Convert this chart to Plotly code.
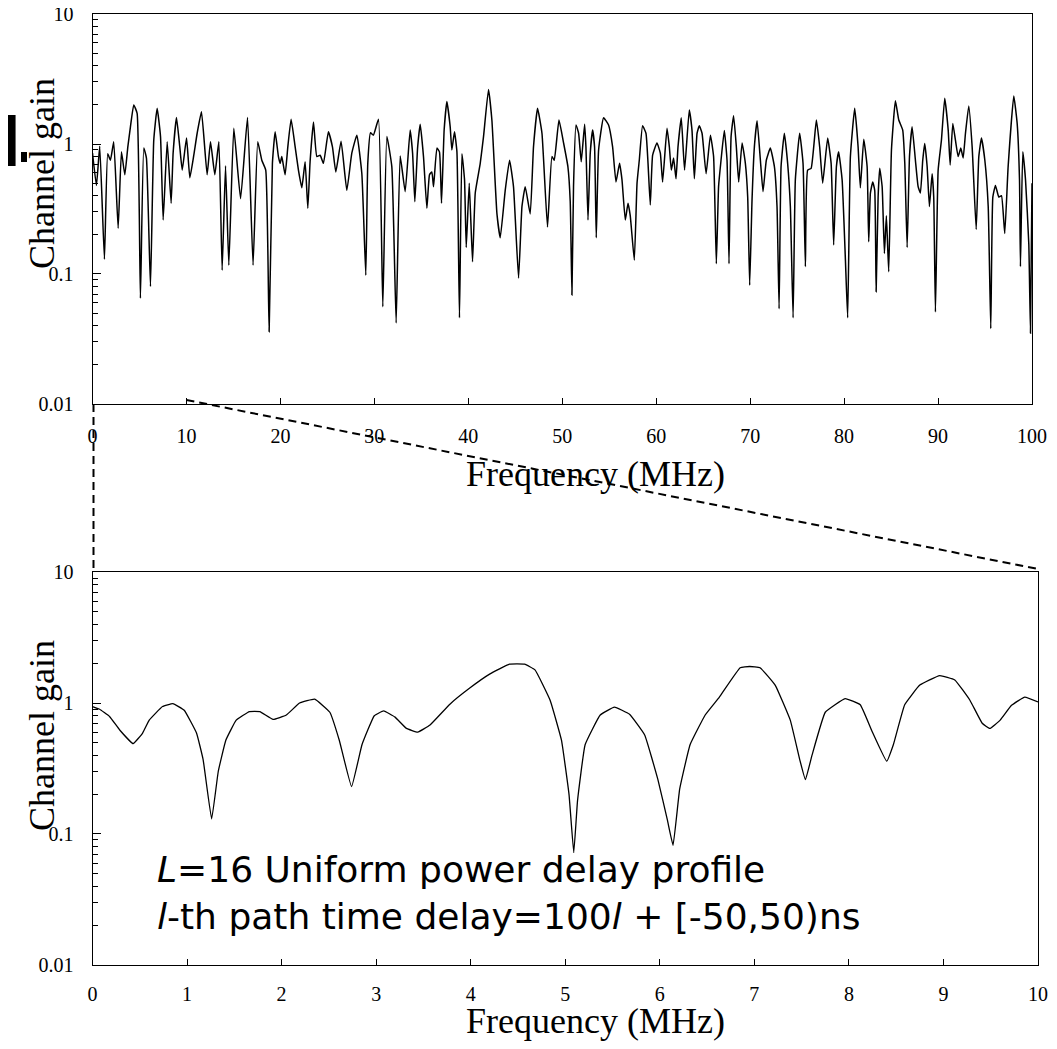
import plotly.graph_objects as go

# ---------------- data ----------------
top_freq = [0.0, 0.42, 0.77, 1.27, 1.62, 1.91, 2.26, 2.73, 3.08, 3.44, 3.76, 4.04, 4.39, 4.75, 5.1, 5.46, 5.74,
            6.17, 6.52, 6.88, 7.24, 7.52, 7.95, 8.37, 8.58, 8.94, 9.29, 9.55, 10.01, 10.36, 10.78, 11.14, 11.6,
            12.2, 12.56, 13.02, 13.45, 13.8, 14.16, 14.51, 15.04, 15.76, 16.5, 17.09, 17.59, 18.02, 18.44, 18.8,
            19.15, 19.44, 19.79, 19.97, 20.15, 20.5, 20.79, 21.14, 21.57, 21.92, 22.28, 22.63, 22.92, 23.16,
            23.52, 23.88, 24.23, 24.58, 25.11, 25.54, 25.9, 26.46, 27.07, 27.6, 28.14, 28.67, 29.09, 29.3, 29.59,
            29.9, 30.44, 30.9, 31.33, 31.86, 32.32, 32.75, 33.28, 33.81, 34.07, 34.31, 34.6, 34.88, 35.23, 35.59,
            35.87, 36.12, 36.3, 36.66, 36.93, 37.15, 37.43, 37.72, 38.07, 38.25, 38.53, 38.79, 39.06, 39.32,
            39.6, 39.78, 40.1, 40.45, 40.74, 41.27, 41.62, 42.15, 42.51, 43.05, 43.4, 43.93, 44.39, 44.81, 45.35,
            45.71, 46.06, 46.59, 46.94, 47.37, 47.84, 48.43, 48.9, 49.15, 49.65, 50.14, 50.6, 50.85, 51.03, 51.2,
            51.46, 51.74, 52.02, 52.38, 52.52, 52.74, 52.98, 53.23, 53.44, 53.62, 53.87, 54.4, 54.93, 55.36,
            55.72, 56.1, 56.36, 56.71, 57.0, 57.24, 57.67, 57.96, 58.2, 58.55, 58.91, 59.13, 59.37, 59.62, 60.08,
            60.44, 60.68, 61.15, 61.4, 61.61, 61.85, 62.11, 62.32, 62.67, 63.02, 63.52, 63.81, 64.06, 64.35,
            64.59, 64.88, 65.31, 65.77, 66.11, 66.4, 66.64, 66.9, 67.25, 67.54, 67.75, 67.97, 68.24, 68.53,
            68.78, 69.14, 69.49, 69.74, 69.95, 70.2, 70.45, 70.74, 71.09, 71.37, 71.72, 72.15, 72.58, 72.86,
            73.08, 73.29, 73.64, 73.99, 74.28, 74.57, 74.81, 75.27, 75.63, 75.88, 76.12, 76.49, 77.05, 77.4,
            77.72, 78.25, 78.62, 78.89, 79.18, 79.42, 79.79, 80.14, 80.38, 80.67, 81.13, 81.49, 81.73, 82.09,
            82.45, 82.62, 82.8, 83.05, 83.26, 83.41, 83.62, 83.79, 84.05, 84.29, 84.5, 84.75, 85.04, 85.46,
            85.82, 86.24, 86.46, 86.71, 86.96, 87.24, 87.59, 87.88, 88.12, 88.37, 88.58, 88.84, 89.08, 89.37,
            89.54, 89.72, 90.01, 90.36, 90.71, 91.08, 91.29, 91.57, 91.85, 92.14, 92.42, 92.67, 92.92, 93.27,
            93.63, 94.06, 94.34, 94.62, 94.98, 95.34, 95.61, 95.83, 96.11, 96.47, 96.75, 97.1, 97.46, 98.06,
            98.42, 98.67, 98.77, 99.02, 99.31, 99.66, 99.84, 100.0]
top_gain = [0.85, 0.48, 0.96, 0.13, 0.84, 0.75, 1.04, 0.225, 0.87, 0.58, 0.95, 1.36, 2.0, 1.72, 0.065, 0.93, 0.78,
            0.08, 1.07, 1.88, 1.14, 0.26, 1.04, 0.35, 0.85, 1.6, 0.95, 0.63, 1.11, 0.55, 0.82, 1.21, 1.77,
            0.58, 1.04, 0.58, 1.04, 0.107, 0.68, 0.117, 1.32, 0.38, 1.6, 0.117, 1.04, 0.75, 0.63, 0.036,
            0.71, 1.24, 0.80, 0.71, 0.80, 0.58, 0.95, 1.55, 0.95, 0.63, 0.46, 0.73, 0.32, 0.73,
            1.48, 0.80, 0.82, 0.71, 1.24, 0.95, 0.61, 1.05, 0.44, 0.85, 1.17, 0.59, 0.098, 0.71, 1.22,
            1.17, 1.55, 0.056, 1.14, 0.67, 0.042, 0.81, 0.43, 1.28, 0.85, 0.36, 0.93, 1.42, 0.80, 0.32,
            0.58, 0.61, 0.47, 0.93, 0.87, 0.35, 1.28, 2.12, 1.36, 0.90, 1.24, 0.87, 0.046, 0.84,
            0.53, 0.16, 0.50, 0.124, 0.42, 0.71, 1.14, 2.63, 1.53, 0.29, 0.19, 0.44, 0.75, 0.47, 0.093,
            0.33, 0.47, 0.29, 0.95, 1.88, 1.21, 0.23, 0.80, 0.75, 1.53, 1.02, 0.67, 0.36, 0.069, 0.47,
            1.40, 1.21, 0.73, 1.42, 0.95, 0.26, 0.85, 1.28, 0.95, 0.19, 0.90, 1.59, 1.40, 0.95,
            0.51, 0.71, 0.53, 0.26, 0.35, 0.28, 0.128, 0.50, 0.75, 1.38, 1.21, 0.71, 0.34, 0.82, 1.02,
            0.85, 0.51, 1.32, 0.95, 0.63, 0.78, 0.54, 0.95, 1.59, 0.63, 1.83, 1.28, 0.54, 1.21,
            1.38, 1.21, 0.59, 1.17, 0.80, 0.12, 0.47, 0.75, 1.27, 0.75, 0.12, 1.14, 1.65, 0.95,
            0.51, 1.02, 0.71, 0.39, 0.082, 0.37, 0.95, 1.51, 0.75, 0.43, 0.75, 0.93, 0.67, 0.33,
            0.054, 0.67, 1.21, 0.71, 0.33, 0.046, 0.53, 1.21, 0.71, 0.114, 0.63, 0.65, 1.53, 0.95,
            0.50, 1.11, 0.71, 0.167, 0.67, 0.87, 0.53, 0.128, 0.046, 0.80, 1.88, 0.95, 0.46, 1.09,
            0.67, 0.177, 0.42, 0.51, 0.44, 0.073, 0.39, 0.65, 0.47, 0.144, 0.28, 0.104, 0.90, 2.15,
            1.53, 1.28, 0.71, 0.16, 0.80, 1.36, 0.75, 0.47, 0.42, 0.75, 1.01, 0.67, 0.33, 0.59,
            0.39, 0.051, 0.63, 1.07, 2.25, 1.28, 0.69, 1.44, 1.07, 0.80, 0.93, 0.78, 1.21, 1.96,
            0.95, 0.22, 0.80, 1.11, 0.75, 0.33, 0.038, 0.39, 0.48, 0.39, 0.40, 0.205, 0.67, 2.34,
            1.44, 0.53, 0.114, 0.87, 0.53, 0.17, 0.035, 0.50]

bot_freq = [0.0, 0.07, 0.18, 0.29, 0.43, 0.53, 0.60, 0.74, 0.85, 0.97, 1.10, 1.17, 1.26, 1.33, 1.41, 1.52,
            1.66, 1.77, 1.91, 2.05, 2.19, 2.35, 2.51, 2.61, 2.74, 2.85, 2.98, 3.08, 3.20, 3.32, 3.44, 3.57,
            3.78, 3.99, 4.20, 4.41, 4.57, 4.68, 4.84, 4.96, 5.04, 5.09, 5.13, 5.21, 5.37, 5.52, 5.68, 5.84,
            5.98, 6.08, 6.14, 6.21, 6.32, 6.48, 6.63, 6.85, 6.95, 7.06, 7.22, 7.38, 7.48, 7.54, 7.61, 7.75,
            7.96, 8.12, 8.24, 8.40, 8.47, 8.59, 8.75, 8.96, 9.12, 9.28, 9.41, 9.49, 9.60, 9.72, 9.86, 10.0]
bot_gain = [0.94, 0.90, 0.79, 0.62, 0.49, 0.59, 0.74, 0.94, 0.99, 0.88, 0.59, 0.37, 0.13, 0.30, 0.52, 0.74,
            0.86, 0.86, 0.75, 0.81, 1.00, 1.07, 0.85, 0.52, 0.23, 0.48, 0.80, 0.87, 0.78, 0.64, 0.60, 0.68,
            0.98, 1.30, 1.66, 1.98, 1.98, 1.79, 1.05, 0.52, 0.20, 0.072, 0.18, 0.48, 0.81, 0.93, 0.82, 0.57,
            0.26, 0.128, 0.082, 0.22, 0.48, 0.81, 1.11, 1.86, 1.90, 1.86, 1.37, 0.74, 0.37, 0.26, 0.40, 0.85,
            1.08, 0.97, 0.62, 0.36, 0.48, 0.97, 1.37, 1.62, 1.50, 1.05, 0.70, 0.64, 0.74, 0.96, 1.11, 1.02]

top_xticks = list(range(0, 101, 10))
bot_xticks = list(range(0, 11))
y_ticks = [0.01, 0.1, 1, 10]
y_ticktext = ["0.01", "0.1", "1", "10"]
y_minor = [m * 10 ** e for e in (-2, -1, 0) for m in range(2, 10)]

# ---------------- layout helpers ----------------
# page body has an 8px margin; map reference pixel positions into the figure
OFF = 8
W, H = 1057 - 2 * OFF, 1049 - 2 * OFF
def px(x):
    return (x - OFF) / W
def py(y):
    return 1 - (y - OFF) / H

top_xdom = [px(92.5), px(1032)]
top_ydom = [py(404), py(14)]
bot_xdom = [px(92.5), px(1038)]
bot_ydom = [py(965), py(572)]

SERIF = "Liberation Serif, Times New Roman, serif"
tickfont = dict(family=SERIF, size=20, color="black")

fig = go.Figure()
fig.add_trace(go.Scatter(x=top_freq, y=top_gain, xaxis="x", yaxis="y", mode="lines",
                         line=dict(color="black", width=1.5, shape="spline", smoothing=0.4),
                         hoverinfo="skip"))
fig.add_trace(go.Scatter(x=bot_freq, y=bot_gain, xaxis="x2", yaxis="y2", mode="lines",
                         line=dict(color="black", width=1.3, shape="spline", smoothing=0.3),
                         hoverinfo="skip"))

def xaxis(dom, rng, ticks, anchor, standoff):
    return dict(domain=dom, range=rng, tickvals=ticks, ticktext=[str(t) for t in ticks],
                ticks="inside", ticklen=6, tickcolor="black", showline=True, linecolor="black",
                linewidth=1, mirror=True, showgrid=False, zeroline=False, tickfont=tickfont,
                ticklabelstandoff=standoff, anchor=anchor, automargin=False, ticklabeloverflow="allow")

def yaxis(dom, anchor):
    return dict(domain=dom, type="log", range=[-2.0002, 1.0002], tickvals=y_ticks, ticktext=y_ticktext,
                ticks="inside", ticklen=8, tickcolor="black", showline=True, linecolor="black",
                linewidth=1, mirror=True, showgrid=False, zeroline=False, tickfont=tickfont,
                ticklabelstandoff=14, anchor=anchor, automargin=False, ticklabeloverflow="allow",
                minor=dict(tickmode="array", tickvals=y_minor, ticks="inside", ticklen=5,
                           tickcolor="black", showgrid=False))

fig.update_layout(
    width=W, height=H, margin=dict(l=0, r=0, t=0, b=0),
    paper_bgcolor="white", plot_bgcolor="white", showlegend=False,
    xaxis=xaxis(top_xdom, [0, 100], top_xticks, "y", 14),
    yaxis=yaxis(top_ydom, "x"),
    xaxis2=xaxis(bot_xdom, [0, 10], bot_xticks, "y2", 11),
    yaxis2=yaxis(bot_ydom, "x2"),
)

title_font = dict(family=SERIF, size=36, color="black")
ann = []
ann.append(dict(text="Channel gain", x=px(42), y=py(174), xref="paper", yref="paper",
                textangle=-90, showarrow=False, font=title_font, xanchor="center", yanchor="middle"))
ann.append(dict(text="Channel gain", x=px(42), y=py(736), xref="paper", yref="paper",
                textangle=-90, showarrow=False, font=title_font, xanchor="center", yanchor="middle"))
ann.append(dict(text="Frequency (MHz)", x=px(595), y=py(474), xref="paper", yref="paper",
                showarrow=False, font=title_font, xanchor="center", yanchor="middle"))
ann.append(dict(text="Frequency (MHz)", x=px(595), y=py(1021), xref="paper", yref="paper",
                showarrow=False, font=title_font, xanchor="center", yanchor="middle"))
ann.append(dict(text="<i>L</i>=16 Uniform power delay profile<br><i>l</i>-th path time delay=100<i>l</i> + [-50,50)ns",
                x=px(155), y=py(893), xref="paper", yref="paper", showarrow=False, align="left",
                font=dict(family="DejaVu Sans, Verdana, sans-serif", size=36, color="black"),
                xanchor="left", yanchor="middle"))
ann.append(dict(text="<b>D</b>", x=px(-7), y=py(139), xref="paper", yref="paper", textangle=180,
                showarrow=False, font=dict(family="DejaVu Sans", size=70, color="black"),
                xanchor="center", yanchor="middle"))
fig.update_layout(annotations=ann)

# zoom connector lines (dashed) and small mark
x10_top = top_xdom[0] + 0.1 * (top_xdom[1] - top_xdom[0])
dash = dict(color="black", width=2, dash="8px,5px")
fig.add_shape(type="line", xref="paper", yref="paper", x0=top_xdom[0] + 1.0 / W, y0=top_ydom[0],
              x1=bot_xdom[0] + 1.0 / W, y1=bot_ydom[1], line=dash)
fig.add_shape(type="line", xref="paper", yref="paper", x0=x10_top, y0=py(400),
              x1=bot_xdom[1], y1=py(569), line=dash)
fig.add_shape(type="rect", xref="paper", yref="paper", x0=px(21), x1=px(27), y0=py(162), y1=py(152),
              fillcolor="black", line=dict(width=0))

fig.write_html("out.html")
